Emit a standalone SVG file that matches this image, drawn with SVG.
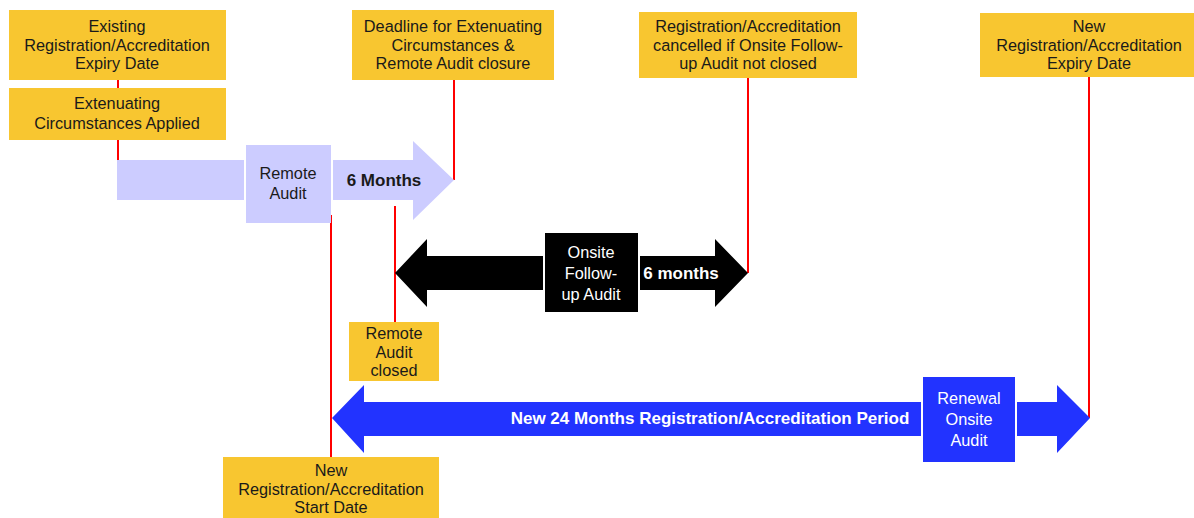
<svg xmlns="http://www.w3.org/2000/svg" width="1194" height="518" viewBox="0 0 1194 518">
<style>
.y{fill:#F8C630}
.t{font-family:"Liberation Sans",Arial,sans-serif;font-size:16.3px;fill:#1a1a1a;text-anchor:middle}
.w{fill:#ffffff}
.b{font-weight:bold;font-size:17px}
.r{stroke:#FF0000;stroke-width:2;fill:none}
</style>
<rect width="1194" height="518" fill="#ffffff"/>
<g id="connectors">
<line class="r" x1="118" y1="80" x2="118" y2="88"/>
<line class="r" x1="118" y1="140" x2="118" y2="180"/>
<line class="r" x1="454" y1="80" x2="454" y2="180"/>
<line class="r" x1="748" y1="78" x2="748" y2="273"/>
<line class="r" x1="395" y1="206" x2="395" y2="322"/>
<line class="r" x1="331" y1="215" x2="331" y2="457"/>
<line class="r" x1="1089" y1="77" x2="1089" y2="418"/>
</g>
<g id="remote-arrow">
<rect x="117" y="160" width="127" height="40" fill="#CCCCFF"/>
<path d="M333 160 H413 V141 L454 180 L413 220 V200 H333 Z" fill="#CCCCFF"/>
<text class="t b" x="384" y="186">6 Months</text>
</g>
<g id="remote-audit">
<rect x="246" y="145" width="85" height="78" fill="#CCCCFF"/>
<text class="t" x="288" y="179">Remote</text>
<text class="t" x="288" y="199">Audit</text>
</g>
<g id="onsite-arrow">
<path d="M395 273 L427 239 V256 H543 V290 H427 V307 Z" fill="#000000"/>
<path d="M640 256 H715 V239 L748 273 L715 307 V290 H640 Z" fill="#000000"/>
<text class="t b w" x="681" y="279">6 months</text>
</g>
<g id="onsite-followup">
<rect x="545" y="233" width="93" height="79" fill="#000000"/>
<text class="t w" x="591" y="258">Onsite</text>
<text class="t w" x="591" y="279">Follow-</text>
<text class="t w" x="591" y="300">up Audit</text>
</g>
<g id="period-arrow">
<path d="M332 418 L364 385 V402 H921 V436 H364 V453 Z" fill="#2233FF"/>
<path d="M1017 402 H1057 V385 L1090 418 L1057 453 V436 H1017 Z" fill="#2233FF"/>
<text class="t b w" x="710" y="424">New 24 Months Registration/Accreditation Period</text>
</g>
<g id="renewal">
<rect x="923" y="377" width="92" height="85" fill="#2233FF"/>
<text class="t w" x="969" y="404">Renewal</text>
<text class="t w" x="969" y="425">Onsite</text>
<text class="t w" x="969" y="446">Audit</text>
</g>
<g id="existing-expiry">
<rect class="y" x="9" y="10" width="217" height="70"/>
<text class="t" x="117" y="32">Existing</text>
<text class="t" x="117" y="51">Registration/Accreditation</text>
<text class="t" x="117" y="69">Expiry Date</text>
</g>
<g id="extenuating">
<rect class="y" x="9" y="88" width="217" height="52"/>
<text class="t" x="117" y="109">Extenuating</text>
<text class="t" x="117" y="129">Circumstances Applied</text>
</g>
<g id="deadline">
<rect class="y" x="352" y="10" width="202" height="70"/>
<text class="t" x="453" y="32">Deadline for Extenuating</text>
<text class="t" x="453" y="51">Circumstances &amp;</text>
<text class="t" x="453" y="69">Remote Audit closure</text>
</g>
<g id="cancelled">
<rect class="y" x="639" y="12" width="218" height="66"/>
<text class="t" x="748" y="32">Registration/Accreditation</text>
<text class="t" x="748" y="51">cancelled if Onsite Follow-</text>
<text class="t" x="748" y="69">up Audit not closed</text>
</g>
<g id="new-expiry">
<rect class="y" x="980" y="13" width="214" height="64"/>
<text class="t" x="1089" y="32">New</text>
<text class="t" x="1089" y="51">Registration/Accreditation</text>
<text class="t" x="1089" y="69">Expiry Date</text>
</g>
<g id="remote-closed">
<rect class="y" x="349" y="322" width="90" height="59"/>
<text class="t" x="394" y="339">Remote</text>
<text class="t" x="394" y="358">Audit</text>
<text class="t" x="394" y="376">closed</text>
</g>
<g id="start-date">
<rect class="y" x="223" y="457" width="216" height="61"/>
<text class="t" x="331" y="476">New</text>
<text class="t" x="331" y="495">Registration/Accreditation</text>
<text class="t" x="331" y="513">Start Date</text>
</g>
</svg>
